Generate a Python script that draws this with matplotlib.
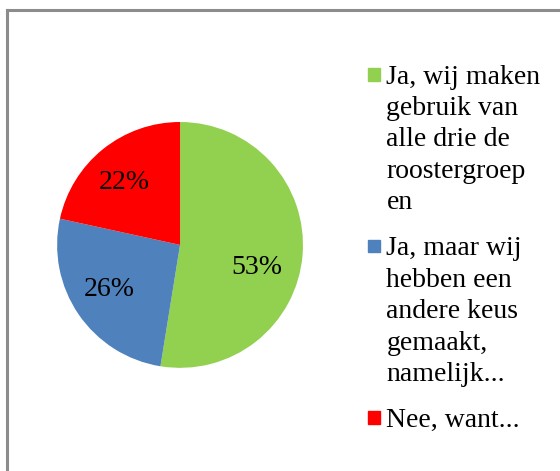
import numpy as np
import matplotlib.pyplot as plt
from matplotlib.patches import Rectangle
from matplotlib.lines import Line2D

# antwoorden (aandeel in %)
labels = [
    "Ja, wij maken\ngebruik van\nalle drie de\nroostergroep\nen",
    "Ja, maar wij\nhebben een\nandere keus\ngemaakt,\nnamelijk...",
    "Nee, want...",
]
values = [52.6, 25.9, 21.6]
colors = ["#92D050", "#4F81BD", "#FF0000"]

plt.rcParams['font.family'] = ['Liberation Serif', 'DejaVu Serif']

fig = plt.figure(figsize=(5.6, 4.71), dpi=100)

# grijze rand
fig.add_artist(Line2D([0.0125, 0.0125], [0, 0.979], color="#8c8c8c", lw=2.2))
fig.add_artist(Line2D([0.0125, 1], [0.979, 0.979], color="#8c8c8c", lw=2.2))

ax = fig.add_axes([0.102, 0.219, 0.439, 0.522])
wedges, texts, autotexts = ax.pie(values, colors=colors, startangle=90, counterclock=False,
                                  autopct='%.0f%%', pctdistance=0.68,
                                  textprops=dict(fontsize=20, color='black'))
ax.set_xlim(-1, 1)
ax.set_ylim(-1, 1)
ax.set_aspect('equal')
# labels verschoven zoals Excel ze zet (hoek in graden, afstand)
for t, (hoek, r) in zip(autotexts, [(-16.5, 0.65), (212, 0.68), (132, 0.68)]):
    a = np.deg2rad(hoek)
    t.set_position((r * np.cos(a), r * np.sin(a)))

# legenda met blokje bij de eerste regel
line_h = 0.0669
y = 0.842
for lab, col in zip(labels, colors):
    fig.add_artist(Rectangle((0.657, y - 0.0135), 0.022, 0.027, color=col, transform=fig.transFigure))
    fig.text(0.69, y + 0.021, lab, va='top', ha='left', fontsize=20, linespacing=1.34)
    y -= (lab.count("\n") + 1) * line_h + 0.03

fig.savefig("out.png", dpi=100)
